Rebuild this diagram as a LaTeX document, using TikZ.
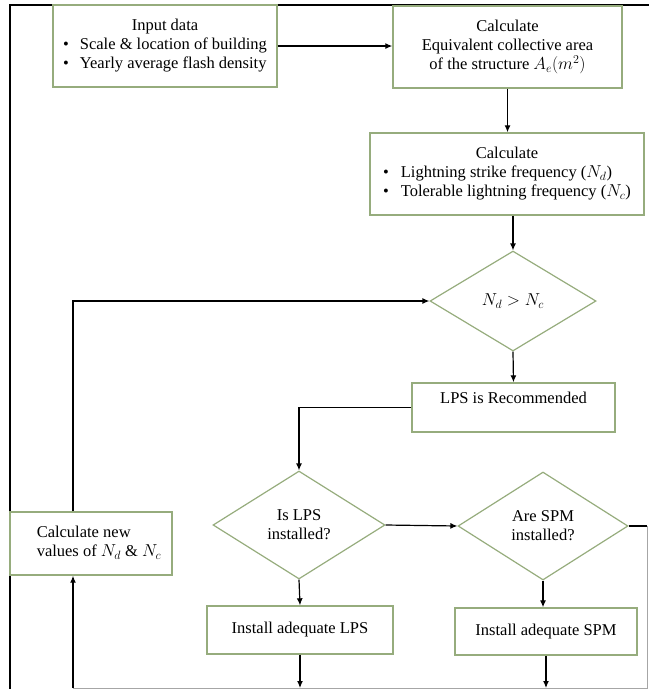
\documentclass[tikz,border=0pt]{standalone}
\usepackage{fontspec}
\setmainfont{Liberation Serif}
\usetikzlibrary{shapes.geometric,arrows.meta,calc}
\definecolor{boxgreen}{RGB}{150,172,125}
\begin{document}
\begin{tikzpicture}[x=1pt,y=-1pt,
 every node/.style={font=\fontsize{16.5}{19}\selectfont},
 box/.style={draw=boxgreen,line width=1.4pt,rectangle,inner sep=0pt,align=center},
 dia/.style={draw=boxgreen,line width=1.2pt,diamond,aspect=1.6,inner sep=0pt,align=center},
 conn/.style={line width=1.2pt,black},
 arr/.style={conn,-{Latex[length=7pt,width=6pt]}},
 frame/.style={line width=1.2pt,black},
 crop/.style={line width=0.8pt,black!35}
]
\useasboundingbox (0,0) rectangle (649,689);
% frame
\draw[frame] (10,689) -- (10,5) -- (649,5);
% nodes
\node[box,minimum width=224pt,minimum height=82pt] (in) at (165,46)
 {\begin{tabular}{@{}l@{\hspace{11pt}}l@{}}\multicolumn{2}{c}{Input data}\\
  \textbullet & Scale \& location of building\\
  \textbullet & Yearly average flash density\end{tabular}};
\node[box,minimum width=229pt,minimum height=82pt] (c1) at (507.5,47)
 {Calculate\\Equivalent collective area\\of the structure $A_e(m^2)$};
\node[box,minimum width=274pt,minimum height=82pt] (c2) at (507,174)
 {\begin{tabular}{@{}l@{\hspace{12pt}}l@{}}\multicolumn{2}{c}{Calculate}\\
  \textbullet & Lightning strike frequency ($N_d$)\\
  \textbullet & Tolerable lightning frequency ($N_c$)\end{tabular}};
\node[dia,minimum width=166pt,minimum height=100pt] (d1) at (513,301) {$N_d > N_c$};
\node[box,minimum width=203pt,minimum height=49pt,text height=11pt,text depth=19pt] (lps) at (513.5,407.5) {LPS is Recommended};
\node[dia,minimum width=172pt,minimum height=108pt] (d2) at (299,525) {Is LPS\\installed?};
\node[dia,minimum width=170pt,minimum height=108pt] (d3) at (543,526) {Are SPM\\installed?};
\node[box,minimum width=162pt,minimum height=63pt] (cn) at (91,543.5)
 {\hspace*{16pt}\begin{tabular}{@{}l@{}}Calculate new\\values of $N_d$ \& $N_c$\end{tabular}};
\node[box,minimum width=186pt,minimum height=48pt] (i1) at (300,630) {Install adequate LPS};
\node[box,minimum width=182pt,minimum height=47pt] (i2) at (546,631.5) {Install adequate SPM};
\coordinate (rc) at (647,526);
\coordinate (br) at (647,688);
\coordinate (bl) at (73,688);
% connectors
\draw[arr] (in.east) -- (in.east -| c1.west);
\draw[arr] (c1.south) -- (c1.south |- c2.north);
\draw[arr] (d1.north |- c2.south) -- (d1.north);
\draw[arr] (d1.south) -- (lps.north);
\draw[arr] (lps.west) -| (d2.north);
\draw[arr] (d2.east) -- (d3.west);
\draw[arr] (d2.south) -- (i1.north);
\draw[arr] (d3.south) -- (d3.south |- i2.north);
\draw[conn] (d3.east) -- (rc);
\draw[crop] (rc) -- (br) -- (bl);
\draw[arr] (i1.south) -- (i1.south |- bl);
\draw[arr] (i2.south) -- (i2.south |- bl);
\draw[arr] (bl) -- (cn.south -| bl);
\draw[arr] (cn.north -| bl) |- (d1.west);
\end{tikzpicture}
\end{document}
